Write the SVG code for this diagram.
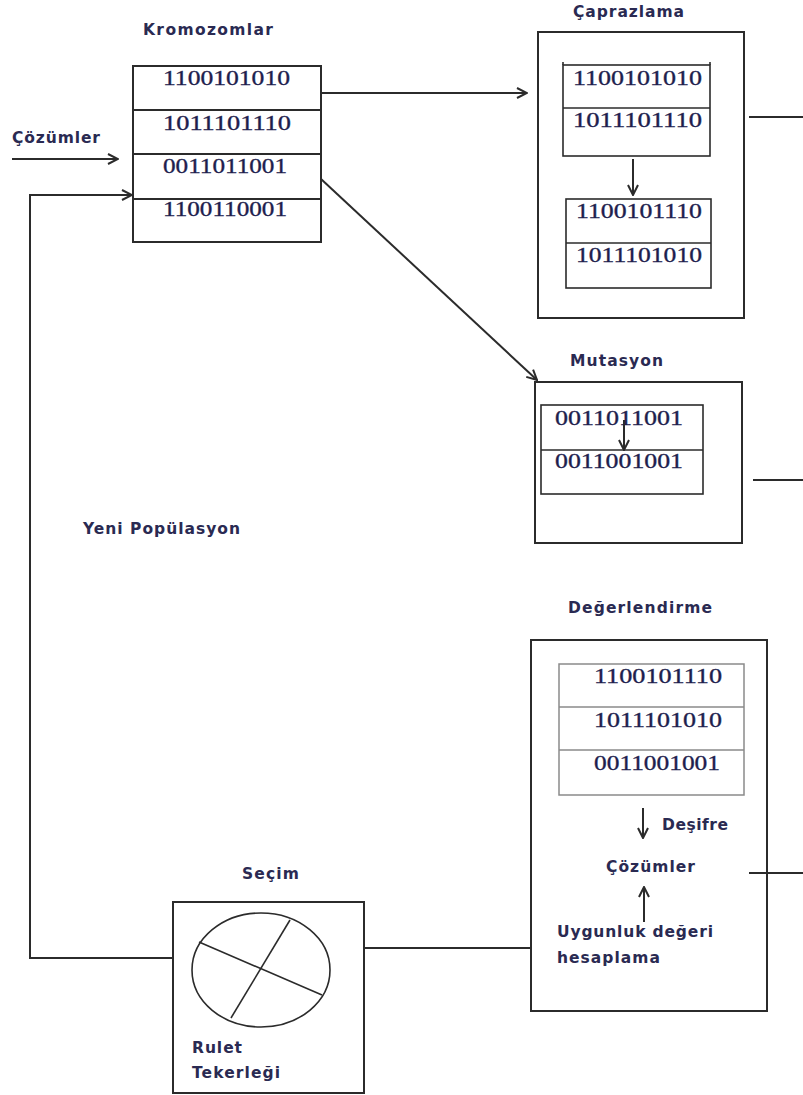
<svg xmlns="http://www.w3.org/2000/svg" width="803" height="1095" viewBox="0 0 803 1095">
  <style>
    .box { fill: none; stroke: #2b2b2b; stroke-width: 2; }
    .thin { fill: none; stroke: #2b2b2b; stroke-width: 1.6; }
    .grey { fill: none; stroke: #8a8a8a; stroke-width: 1.5; }
    .wire { fill: none; stroke: #2b2b2b; stroke-width: 2; }
    .lbl { font-family: "DejaVu Sans", "Open Sans", sans-serif; font-weight: bold; font-size: 15.5px; fill: #2a2a52; }
    .bits { font-family: "Liberation Serif", serif; font-size: 21px; fill: #1e1e4e; stroke: #1e1e4e; stroke-width: 0.35; }
  </style>
  <defs>
    <marker id="head" viewBox="0 0 12 12" refX="11" refY="6" markerWidth="12" markerHeight="12" markerUnits="userSpaceOnUse" orient="auto">
      <path d="M1,1 L11,6 L1,11" fill="none" stroke="#2b2b2b" stroke-width="2"/>
    </marker>
  </defs>

  <!-- connectors -->
  <g id="connectors">
    <line class="wire" x1="12" y1="159" x2="118" y2="159" marker-end="url(#head)"/>
    <polyline class="wire" points="173,958 30,958 30,195 132,195" stroke-width="2.6" marker-end="url(#head)"/>
    <line class="wire" x1="320" y1="93" x2="527" y2="93" marker-end="url(#head)"/>
    <line class="wire" x1="321" y1="179" x2="537" y2="380" marker-end="url(#head)"/>
    <line class="wire" x1="749" y1="117" x2="803" y2="117"/>
    <line class="wire" x1="753" y1="480" x2="803" y2="480"/>
    <line class="wire" x1="749" y1="873" x2="803" y2="873"/>
    <line class="wire" x1="364" y1="948" x2="531" y2="948"/>
  </g>

  <!-- chromosome population -->
  <g id="kromozomlar">
    <text class="lbl" x="143" y="35" textLength="130" lengthAdjust="spacing">Kromozomlar</text>
    <rect class="box" x="133" y="66" width="188" height="176"/>
    <line class="box" x1="133" y1="110" x2="321" y2="110"/>
    <line class="box" x1="133" y1="154" x2="321" y2="154"/>
    <line class="box" x1="133" y1="199" x2="321" y2="199"/>
    <text class="bits" x="163" y="85" textLength="127" lengthAdjust="spacingAndGlyphs">1100101010</text>
    <text class="bits" x="163" y="130" textLength="128" lengthAdjust="spacingAndGlyphs">1011101110</text>
    <text class="bits" x="163" y="173" textLength="124" lengthAdjust="spacingAndGlyphs">0011011001</text>
    <text class="bits" x="163" y="216" textLength="124" lengthAdjust="spacingAndGlyphs">1100110001</text>
  </g>

  <g id="cozumler-in">
    <text class="lbl" x="12" y="143" textLength="88" lengthAdjust="spacing">Çözümler</text>
  </g>

  <g id="yeni-populasyon">
    <text class="lbl" x="83" y="534" textLength="157" lengthAdjust="spacing">Yeni Popülasyon</text>
  </g>

  <!-- crossover -->
  <g id="caprazlama">
    <text class="lbl" x="573" y="17" textLength="111" lengthAdjust="spacing">Çaprazlama</text>
    <rect class="box" x="538" y="32" width="206" height="286"/>
    <rect class="thin" x="563" y="65" width="147" height="91"/>
    <line class="thin" x1="563" y1="62" x2="563" y2="65"/>
    <line class="thin" x1="710" y1="62" x2="710" y2="65"/>
    <line class="thin" x1="563" y1="108" x2="710" y2="108"/>
    <text class="bits" x="573" y="85" textLength="129" lengthAdjust="spacingAndGlyphs">1100101010</text>
    <text class="bits" x="573" y="127" textLength="129" lengthAdjust="spacingAndGlyphs">1011101110</text>
    <line class="wire" x1="633" y1="159" x2="633" y2="195" marker-end="url(#head)"/>
    <rect class="thin" x="566" y="199" width="145" height="89"/>
    <line class="thin" x1="566" y1="243" x2="711" y2="243"/>
    <text class="bits" x="576" y="218" textLength="126" lengthAdjust="spacingAndGlyphs">1100101110</text>
    <text class="bits" x="576" y="262" textLength="126" lengthAdjust="spacingAndGlyphs">1011101010</text>
  </g>

  <!-- mutation -->
  <g id="mutasyon">
    <text class="lbl" x="570" y="366" textLength="93" lengthAdjust="spacing">Mutasyon</text>
    <rect class="box" x="535" y="382" width="207" height="161"/>
    <rect class="thin" x="541" y="405" width="162" height="89"/>
    <line class="thin" x1="541" y1="450" x2="703" y2="450"/>
    <text class="bits" x="555" y="425" textLength="128" lengthAdjust="spacingAndGlyphs">0011011001</text>
    <text class="bits" x="555" y="468" textLength="128" lengthAdjust="spacingAndGlyphs">0011001001</text>
    <line class="wire" x1="624" y1="420" x2="624" y2="450" marker-end="url(#head)"/>
  </g>

  <!-- evaluation -->
  <g id="degerlendirme">
    <text class="lbl" x="568" y="613" textLength="144" lengthAdjust="spacing">Değerlendirme</text>
    <rect class="box" x="531" y="640" width="236" height="371"/>
    <rect class="grey" x="559" y="664" width="185" height="131"/>
    <line class="grey" x1="559" y1="707" x2="744" y2="707"/>
    <line class="grey" x1="559" y1="750" x2="744" y2="750"/>
    <text class="bits" x="594" y="683" textLength="128" lengthAdjust="spacingAndGlyphs">1100101110</text>
    <text class="bits" x="594" y="727" textLength="128" lengthAdjust="spacingAndGlyphs">1011101010</text>
    <text class="bits" x="594" y="770" textLength="126" lengthAdjust="spacingAndGlyphs">0011001001</text>
    <line class="wire" x1="643" y1="808" x2="643" y2="838" marker-end="url(#head)"/>
    <text class="lbl" x="662" y="830" textLength="66" lengthAdjust="spacing">Deşifre</text>
    <text class="lbl" x="606" y="872" textLength="89" lengthAdjust="spacing">Çözümler</text>
    <line class="wire" x1="644" y1="922" x2="644" y2="887" marker-end="url(#head)"/>
    <text class="lbl" x="557" y="937" textLength="156" lengthAdjust="spacing">Uygunluk değeri</text>
    <text class="lbl" x="557" y="963" textLength="103" lengthAdjust="spacing">hesaplama</text>
  </g>

  <!-- selection -->
  <g id="secim">
    <text class="lbl" x="242" y="879" textLength="57" lengthAdjust="spacing">Seçim</text>
    <rect class="box" x="173" y="902" width="191" height="191"/>
    <ellipse class="thin" cx="261" cy="970" rx="69" ry="57"/>
    <line class="thin" x1="199" y1="942" x2="322" y2="995"/>
    <line class="thin" x1="290" y1="920" x2="231" y2="1018"/>
    <text class="lbl" x="192" y="1053" textLength="50" lengthAdjust="spacing">Rulet</text>
    <text class="lbl" x="192" y="1078" textLength="88" lengthAdjust="spacing">Tekerleği</text>
  </g>
</svg>
